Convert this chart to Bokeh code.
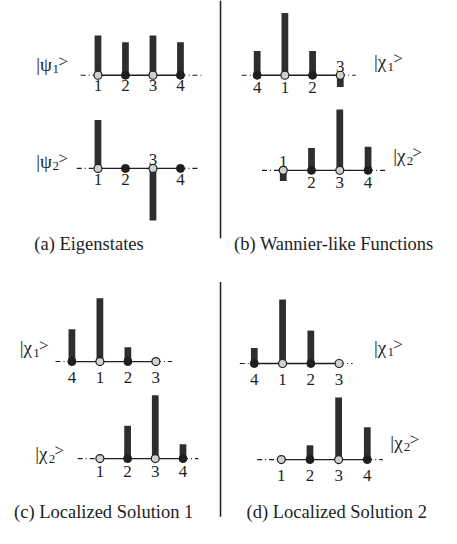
from bokeh.plotting import figure
from bokeh.models import Range1d, ColumnDataSource
from bokeh.embed import file_html
from bokeh.resources import INLINE
from bokeh.core.properties import value

# ---------------- data ----------------
sites_a = ["1", "2", "3", "4"]
psi1_a = [0.64, 0.53, 0.64, 0.53]
psi2_a = [0.78, 0.0, -0.84, 0.0]

sites_b1 = ["4", "1", "2", "3"]
chi1_b = [0.39, 1.00, 0.39, -0.19]
sites_b2 = ["1", "2", "3", "4"]
chi2_b = [-0.17, 0.36, 0.98, 0.38]

sites_c1 = ["4", "1", "2", "3"]
chi1_c = [0.52, 1.02, 0.23, 0.0]
sites_c2 = ["1", "2", "3", "4"]
chi2_c = [0.0, 0.53, 1.02, 0.23]

sites_d1 = ["4", "1", "2", "3"]
chi1_d = [0.25, 1.03, 0.53, 0.0]
sites_d2 = ["1", "2", "3", "4"]
chi2_d = [0.0, 0.23, 1.00, 0.52]

ket_symbols = ["ψ", "ψ", "χ", "χ", "χ", "χ", "χ", "χ"]
ket_indices = ["1", "2", "1", "2", "1", "2", "1", "2"]
captions = ["(a) Eigenstates", "(b) Wannier-like Functions",
            "(c) Localized Solution 1", "(d) Localized Solution 2"]

# ---------------- layout (positions / styles) ----------------
SCALE = 64.0     # units per amplitude
BAR_W = 7
FONT = value("'Liberation Serif', 'DejaVu Serif', 'Times New Roman', serif")
INK = "#1e1e1e"
BAR = "#2e2e2e"

rows = [
    dict(sites=sites_a, vals=psi1_a, x0=101, y=77, dx=28.5, ldy=11, ext=(18, 22), ket=(37, 66)),
    dict(sites=sites_a, vals=psi2_a, x0=101, y=173, dx=28.5, ldy=11, ext=(22, 19), ket=(37, 166)),
    dict(sites=sites_b1, vals=chi1_b, x0=266, y=77, dx=28.7, ldy=13, ext=(16, 16), ket=(387, 63)),
    dict(sites=sites_b2, vals=chi2_b, x0=293, y=175, dx=29.3, ldy=13, ext=(22, 19), ket=(407, 160)),
    dict(sites=sites_c1, vals=chi1_c, x0=74, y=372, dx=29.0, ldy=16, ext=(17, 17), ket=(20, 358)),
    dict(sites=sites_c2, vals=chi2_c, x0=103, y=472, dx=28.7, ldy=13, ext=(23, 16), ket=(36, 467)),
    dict(sites=sites_d1, vals=chi1_d, x0=263, y=374, dx=29.3, ldy=16, ext=(15, 14), ket=(387, 357)),
    dict(sites=sites_d2, vals=chi2_d, x0=291, y=473, dx=29.7, ldy=16, ext=(25, 16), ket=(404, 455)),
]
caption_pos = [(35, 251), (242, 251), (14, 527), (255, 527)]
sym_w = {"ψ": 17, "χ": 14}

p = figure(width=441, height=528, output_backend="svg", toolbar_location=None,
           x_range=Range1d(0, 457), y_range=Range1d(544, 0),
           x_axis_type=None, y_axis_type=None, min_border=0)
p.grid.visible = False
p.outline_line_color = None
p.background_fill_color = "white"
p.border_fill_color = "white"

# separators
p.segment(x0=[228, 228], y0=[0, 290], x1=[228, 228], y1=[245, 532],
          line_color=INK, line_width=1.5)

for i, r in enumerate(rows):
    n = len(r["sites"])
    xs = [r["x0"] + k * r["dx"] for k in range(n)]
    yb = r["y"]
    # chain
    p.segment(x0=[xs[0]], y0=[yb], x1=[xs[-1]], y1=[yb], line_color=INK, line_width=1.3)
    p.segment(x0=[xs[0] - r["ext"][0], xs[-1]], y0=[yb, yb],
              x1=[xs[0], xs[-1] + r["ext"][1]], y1=[yb, yb],
              line_color=INK, line_width=1.1, line_dash="5 3 1 3")
    # bars
    bx = [x for x, v in zip(xs, r["vals"]) if v != 0]
    bt = [yb - v * SCALE for v in r["vals"] if v != 0]
    p.vbar(x=bx, bottom=yb, top=bt, width=BAR_W, fill_color=BAR, line_color=None)
    # sites
    odd = [int(s) % 2 == 1 for s in r["sites"]]
    p.scatter(x=[x for x, o in zip(xs, odd) if o], y=yb, marker="circle", size=8,
              fill_color="#d0d0d0", line_color=INK, line_width=1.2)
    p.scatter(x=[x for x, o in zip(xs, odd) if not o], y=yb, marker="circle", size=8,
              fill_color=INK, line_color=INK)
    # site labels
    below = [v >= 0 for v in r["vals"]]
    src_b = ColumnDataSource(dict(x=[x for x, b in zip(xs, below) if b],
                                  t=[s for s, b in zip(r["sites"], below) if b]))
    src_a = ColumnDataSource(dict(x=[x for x, b in zip(xs, below) if not b],
                                  t=[s for s, b in zip(r["sites"], below) if not b]))
    p.text(x="x", y=yb + r["ldy"], text="t", source=src_b, text_font=FONT,
           text_font_size="17px", text_align="center", text_baseline="middle", text_color=INK)
    p.text(x="x", y=yb - 9, text="t", source=src_a, text_font=FONT,
           text_font_size="17px", text_align="center", text_baseline="middle", text_color=INK)
    # ket label
    kx, ky = r["ket"]
    w = sym_w[ket_symbols[i]]
    p.text(x=[kx], y=[ky], text=["|" + ket_symbols[i]], text_font=FONT, text_font_size="19px",
           text_align="left", text_baseline="middle", text_color=INK)
    p.text(x=[kx + w], y=[ky + 5], text=[ket_indices[i]], text_font=FONT, text_font_size="13px",
           text_align="left", text_baseline="middle", text_color=INK)
    p.text(x=[kx + w + 6], y=[ky - 3], text=[">"], text_font=FONT, text_font_size="17px",
           text_align="left", text_baseline="middle", text_color=INK)

p.text(x=[c[0] for c in caption_pos], y=[c[1] for c in caption_pos], text=captions,
       text_font=FONT, text_font_size="18.5px", text_align="left", text_baseline="middle",
       text_color=INK)

open("out.html", "w").write(file_html(p, INLINE))
